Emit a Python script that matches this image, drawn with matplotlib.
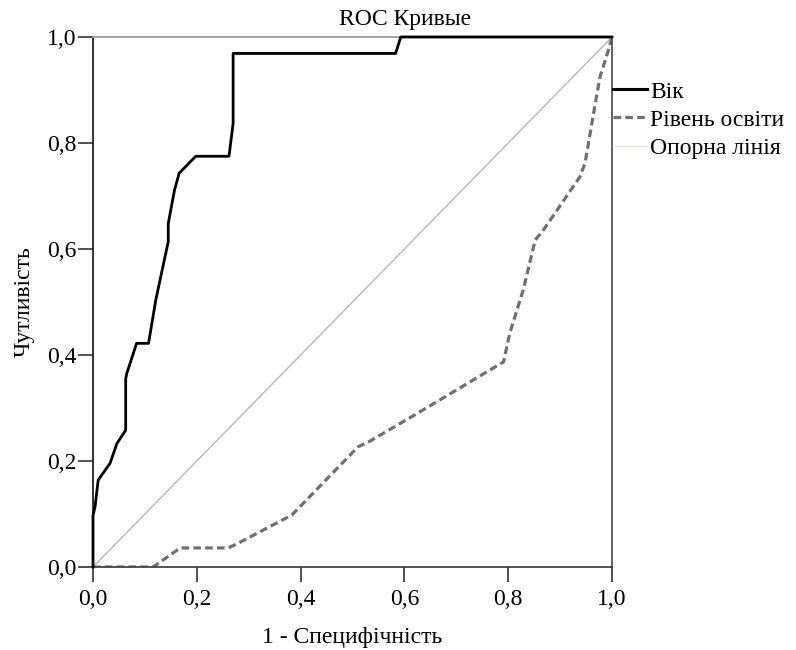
import matplotlib.pyplot as plt
from matplotlib.lines import Line2D

# ROC curve points
vik_fpr = [0.0, 0.0, 0.004, 0.010, 0.033, 0.046, 0.063, 0.063, 0.065, 0.084, 0.107,
           0.121, 0.145, 0.145, 0.157, 0.166, 0.198, 0.262, 0.270, 0.270, 0.583, 0.593, 1.0]
vik_tpr = [0.0, 0.097, 0.114, 0.164, 0.196, 0.233, 0.258, 0.355, 0.365, 0.422, 0.422,
           0.504, 0.614, 0.648, 0.711, 0.743, 0.775, 0.775, 0.837, 0.969, 0.969, 1.0, 1.0]

osv_fpr = [0.0, 0.116, 0.168, 0.261, 0.280, 0.383, 0.402, 0.511, 0.531, 0.620,
           0.791, 0.803, 0.829, 0.852, 0.868, 0.938, 0.948, 0.970, 0.977, 0.993, 1.0]
osv_tpr = [0.0, 0.0, 0.036, 0.036, 0.045, 0.098, 0.117, 0.227, 0.236, 0.287,
           0.387, 0.441, 0.523, 0.617, 0.636, 0.736, 0.762, 0.887, 0.925, 0.975, 1.0]

ref_line = [0.0, 1.0]
ticks = [0.0, 0.2, 0.4, 0.6, 0.8, 1.0]
tick_labels = ['0,0', '0,2', '0,4', '0,6', '0,8', '1,0']
legend_labels = ['Вік', 'Рівень освіти', 'Опорна лінія']

plt.rcParams['font.family'] = ['Liberation Serif', 'DejaVu Serif']
fs = 17

fig = plt.figure(figsize=(7.96, 6.5), dpi=100)
ax = fig.add_axes([93 / 796, 83 / 650, 519 / 796, 530 / 650])

ax.plot(ref_line, ref_line, color='#b8b8b8', lw=1.0, zorder=1)
ax.plot(osv_fpr, osv_tpr, color='#707070', lw=2.3, dashes=(2.4, 1.3), zorder=2)
ax.plot(vik_fpr, vik_tpr, color='black', lw=2.0, zorder=3, clip_on=False)

ax.set_xlim(0, 1)
ax.set_ylim(0, 1)
ax.set_xticks(ticks)
ax.set_xticklabels(tick_labels)
ax.set_yticks(ticks)
ax.set_yticklabels(tick_labels)
ax.tick_params(direction='out', length=11, width=1.2, labelsize=fs, color='#333333')
ax.tick_params(axis='x', pad=5)
ax.tick_params(axis='y', pad=1)

ax.spines['top'].set_color('#9a9a9a')
ax.spines['right'].set_color('#555555')
ax.spines['left'].set_color('#222222')
ax.spines['bottom'].set_color('#444444')
for s in ax.spines.values():
    s.set_linewidth(1.3)

# SPSS centres the title over the whole chart, not the plot area
fig.text(405 / 796, (650 - 25) / 650, 'ROC Кривые', fontsize=fs,
         ha='center', va='baseline')

ax.set_xlabel('1 - Специфічність', fontsize=fs)
ax.xaxis.label.set_va('baseline')
ax.xaxis.set_label_coords(0.5, (567 - 643) / 530)
ax.set_ylabel('Чутливість', fontsize=fs)
ax.yaxis.label.set_va('center')
ax.yaxis.set_label_coords((24 - 93) / 519, 0.5)

handles = [Line2D([], [], color='black', lw=2.2),
           Line2D([], [], color='#707070', lw=2.3, dashes=(2.4, 1.3)),
           Line2D([], [], color='#ece8d4', lw=1.0)]
ax.legend(handles, legend_labels,
          loc='upper left', bbox_to_anchor=(1.002, (567 - 81) / 530), frameon=False,
          fontsize=fs, handlelength=1.45, handletextpad=0.12, labelspacing=0.28,
          borderaxespad=0.0, borderpad=0.0)

fig.savefig('out.png', dpi=100)
